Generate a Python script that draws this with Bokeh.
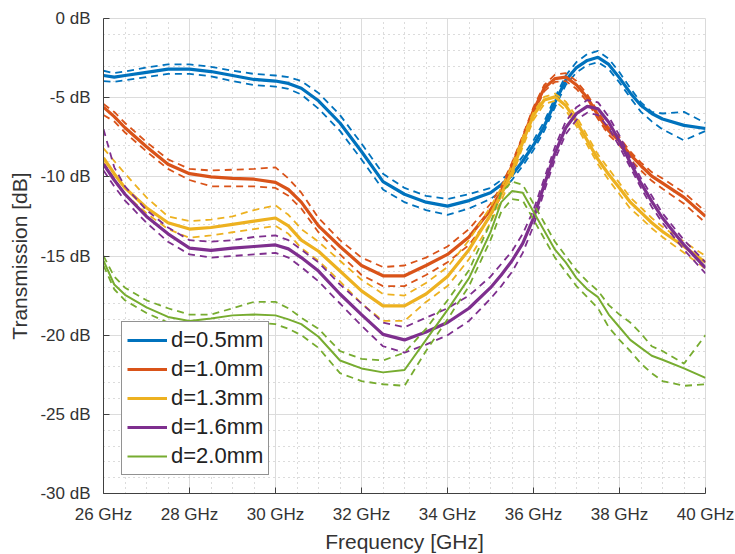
from bokeh.plotting import figure
from bokeh.models import Range1d, FixedTicker, PrintfTickFormatter
from bokeh.embed import file_html
from bokeh.resources import INLINE

freq_ghz = [26, 26.25, 26.5, 27, 27.5, 28, 28.5, 29, 29.5, 30, 30.3, 30.6, 31, 31.5, 32, 32.5, 33, 33.5,
            34, 34.5, 35, 35.25, 35.5, 35.75, 36, 36.25, 36.5, 36.75, 37, 37.25, 37.5, 37.75, 38, 38.25,
            38.5, 38.75, 39, 39.5, 40]

labels = ["d=0.5mm", "d=1.0mm", "d=1.3mm", "d=1.6mm", "d=2.0mm"]
colors = ["#0072BD", "#D95319", "#EDB120", "#7E2F8E", "#77AC30"]

d05_mean = [-3.6, -3.7, -3.6, -3.4, -3.2, -3.2, -3.35, -3.6, -3.85, -3.95, -4.1, -4.4, -5.2, -6.6, -8.4, -10.3, -11.1, -11.6,
            -11.85, -11.5, -11.0, -10.5, -9.9, -9.0, -8.0, -6.8, -5.3, -3.9, -3.1, -2.65, -2.45, -2.9, -3.75, -4.7,
            -5.5, -6.0, -6.35, -6.75, -6.95]
d05_upper = [-3.3, -3.45, -3.35, -3.1, -2.9, -2.9, -3.05, -3.3, -3.5, -3.6, -3.7, -3.95, -4.7, -6.1, -7.9, -9.8, -10.7, -11.2,
             -11.4, -11.1, -10.7, -10.2, -9.6, -8.7, -7.7, -6.5, -5.0, -3.6, -2.75, -2.25, -2.05, -2.55, -3.4, -4.4,
             -5.3, -5.9, -6.0, -5.9, -6.6]
d05_lower = [-3.95, -4.0, -3.9, -3.7, -3.5, -3.5, -3.65, -3.95, -4.2, -4.3, -4.45, -4.8, -5.7, -7.1, -8.9, -10.8, -11.6, -12.1,
             -12.4, -12.0, -11.4, -10.9, -10.2, -9.3, -8.3, -7.1, -5.6, -4.2, -3.4, -2.95, -2.75, -3.2, -4.05, -5.0,
             -5.9, -6.5, -7.0, -7.7, -7.1]

d10_mean = [-5.6, -6.2, -6.9, -8.1, -9.2, -9.8, -10.0, -10.1, -10.15, -10.35, -10.8, -11.6, -13.1, -14.4, -15.6, -16.25, -16.25, -15.6,
            -14.9, -13.8, -12.1, -10.9, -9.3, -7.6, -5.8, -4.4, -3.8, -3.7, -4.2, -5.0, -6.1, -7.1, -7.75, -8.6,
            -9.3, -9.95, -10.4, -11.3, -12.5]
d10_upper = [-5.4, -5.9, -6.6, -7.8, -8.9, -9.5, -9.6, -9.55, -9.5, -9.4, -10.1, -11.0, -12.6, -14.0, -15.1, -15.7, -15.6, -15.1,
             -14.4, -13.3, -11.7, -10.6, -9.1, -7.4, -5.6, -4.2, -3.55, -3.45, -3.95, -4.8, -5.9, -6.9, -7.5, -8.4,
             -9.1, -9.7, -10.1, -11.0, -12.2]
d10_lower = [-6.1, -6.5, -7.2, -8.4, -9.5, -10.2, -10.6, -10.6, -10.6, -10.7, -11.2, -12.0, -13.5, -14.9, -16.2, -16.9, -16.9, -16.2,
             -15.4, -14.3, -12.5, -11.2, -9.5, -7.8, -6.0, -4.6, -4.0, -3.95, -4.45, -5.25, -6.35, -7.35, -8.0, -8.9,
             -9.6, -10.25, -10.75, -11.7, -12.9]

d13_mean = [-8.8, -9.8, -10.7, -11.95, -12.9, -13.3, -13.2, -13.0, -12.8, -12.6, -13.1, -14.0, -14.7, -15.95, -17.2, -18.15, -18.15, -17.4,
            -16.3, -14.6, -12.4, -11.1, -9.7, -7.8, -6.1, -5.15, -4.95, -5.5, -6.5, -7.7, -8.9, -9.85, -10.7, -11.6,
            -12.25, -12.9, -13.45, -14.4, -15.4]
d13_upper = [-8.2, -9.0, -9.8, -11.3, -12.5, -12.8, -12.7, -12.5, -12.1, -11.8, -12.4, -13.3, -14.1, -15.3, -16.5, -17.4, -17.5, -16.7,
             -15.7, -14.0, -11.9, -10.7, -9.3, -7.5, -5.9, -4.95, -4.75, -5.25, -6.2, -7.4, -8.6, -9.5, -10.4, -11.3,
             -11.95, -12.6, -13.15, -14.1, -15.0]
d13_lower = [-9.1, -10.1, -11.1, -12.3, -13.3, -13.85, -13.7, -13.5, -13.3, -13.1, -13.6, -14.5, -15.3, -16.6, -18.0, -19.1, -19.1, -17.9,
             -16.9, -15.2, -12.9, -11.5, -10.0, -8.1, -6.4, -5.4, -5.2, -5.8, -6.8, -8.0, -9.2, -10.2, -11.1, -12.0,
             -12.6, -13.25, -13.8, -14.8, -15.8]

d16_mean = [-9.2, -10.2, -11.1, -12.5, -13.6, -14.5, -14.65, -14.5, -14.4, -14.3, -14.55, -15.1, -15.95, -17.4, -18.7, -19.95, -20.3, -19.8,
            -19.2, -18.3, -17.0, -16.2, -15.3, -14.2, -12.6, -10.5, -8.5, -6.9, -6.0, -5.55, -5.7, -6.55, -7.75, -9.1,
            -10.4, -11.55, -12.6, -14.3, -15.75]
d16_upper = [-7.0, -9.4, -10.6, -12.1, -13.2, -14.0, -14.1, -14.0, -13.8, -13.7, -14.0, -14.6, -15.4, -16.8, -18.0, -19.2, -19.5, -18.9,
             -18.3, -17.5, -16.3, -15.5, -14.7, -13.6, -12.1, -10.1, -8.1, -6.5, -5.6, -5.15, -5.3, -6.2, -7.4, -8.8,
             -10.1, -11.2, -12.3, -14.0, -15.4]
d16_lower = [-9.6, -10.6, -11.5, -12.9, -14.1, -14.9, -15.1, -15.0, -14.9, -14.8, -15.1, -15.7, -16.6, -18.0, -19.4, -20.7, -21.1, -20.6,
             -20.0, -19.1, -17.7, -16.9, -16.0, -14.8, -13.1, -10.9, -8.9, -7.3, -6.4, -5.95, -6.1, -6.9, -8.1, -9.4,
             -10.7, -11.9, -12.9, -14.6, -16.1]

d20_mean = [-15.3, -16.8, -17.45, -18.25, -18.85, -19.1, -18.95, -18.75, -18.7, -18.75, -19.0, -19.3, -20.1, -21.6, -22.1, -22.35, -22.2, -20.3,
            -18.4, -16.4, -13.5, -11.6, -10.9, -11.0, -12.2, -13.4, -14.6, -15.4, -16.4, -17.1, -17.6, -18.7, -19.5, -20.3,
            -20.8, -21.3, -21.55, -22.1, -22.7]
d20_upper = [-15.0, -16.3, -17.0, -17.8, -18.3, -18.7, -18.7, -18.3, -17.9, -17.9, -18.3, -18.9, -19.6, -21.0, -21.5, -21.6, -21.1, -19.6,
             -17.8, -15.9, -12.9, -11.0, -10.3, -10.5, -11.7, -12.9, -14.1, -15.0, -15.9, -16.6, -17.2, -18.1, -18.7, -19.2,
             -19.9, -20.7, -21.0, -21.8, -20.0]
d20_lower = [-15.6, -17.1, -17.8, -18.6, -19.2, -19.5, -19.4, -19.2, -19.2, -19.3, -19.6, -20.0, -20.8, -22.4, -22.9, -23.1, -23.2, -21.0,
             -19.0, -16.9, -14.0, -12.2, -11.4, -11.5, -12.7, -13.9, -15.1, -16.0, -16.9, -17.6, -18.3, -19.5, -20.3, -21.0,
             -21.8, -22.4, -22.9, -23.2, -23.1]

x_ticks = [26, 28, 30, 32, 34, 36, 38, 40]
y_ticks = [-30, -25, -20, -15, -10, -5, 0]
x_minor = [26 + 0.5 * i for i in range(29)]
y_minor = [-30 + i for i in range(31)]

series = [
    (d05_mean, d05_upper, d05_lower, 3.2),
    (d10_mean, d10_upper, d10_lower, 3.2),
    (d13_mean, d13_upper, d13_lower, 3.2),
    (d16_mean, d16_upper, d16_lower, 3.2),
    (d20_mean, d20_upper, d20_lower, 2.0),
]

FONT = "Liberation Sans"
TXT = "#333333"

p = figure(frame_width=602, frame_height=475, output_backend="svg", toolbar_location=None,
           x_range=Range1d(26, 40), y_range=Range1d(-30, 0),
           min_border_left=103, min_border_right=30, min_border_top=18, min_border_bottom=61,
           x_axis_label="Frequency [GHz]", y_axis_label="Transmission [dB]")
p.background_fill_color = "white"
p.border_fill_color = "white"
p.outline_line_color = "#dadada"

p.xaxis.ticker = FixedTicker(ticks=x_ticks, minor_ticks=x_minor)
p.yaxis.ticker = FixedTicker(ticks=y_ticks, minor_ticks=y_minor)
p.xaxis.formatter = PrintfTickFormatter(format="%d GHz")
p.yaxis.formatter = PrintfTickFormatter(format="%d dB")

for ax in (p.xaxis, p.yaxis):
    ax.axis_line_color = "#404040"
    ax.major_tick_line_color = "#404040"
    ax.major_tick_in = 6
    ax.major_tick_out = 0
    ax.minor_tick_line_color = None
    ax.major_label_text_font = FONT
    ax.major_label_text_font_size = "17px"
    ax.major_label_text_color = TXT
    ax.axis_label_text_font = FONT
    ax.axis_label_text_font_size = "21px"
    ax.axis_label_text_font_style = "normal"
    ax.axis_label_text_color = TXT
p.xaxis.major_label_standoff = 7
p.yaxis.major_label_standoff = 9
p.xaxis.axis_label_standoff = 3
p.yaxis.axis_label_standoff = 6

for g in (p.xgrid, p.ygrid):
    g.grid_line_color = "#dcdcdc"
    g.grid_line_width = 1
    g.minor_grid_line_color = "#b8b8b8"
    g.minor_grid_line_dash = "1 4"
    g.minor_grid_line_width = 1

for (mean, up, lo, lw), lab, col in zip(series, labels, colors):
    p.line(freq_ghz, up, line_color=col, line_width=1.8, line_dash="7 5")
    p.line(freq_ghz, lo, line_color=col, line_width=1.8, line_dash="7 5")
    p.line(freq_ghz, mean, line_color=col, line_width=lw, legend_label=lab)

leg = p.legend[0]
leg.location = (18, 18)
leg.padding = 5
leg.spacing = 3
leg.margin = 0
leg.glyph_width = 40
leg.glyph_height = 26
leg.label_height = 26
leg.label_standoff = 4
leg.label_text_font = FONT
leg.label_text_font_size = "22px"
leg.label_text_color = "#222222"
leg.border_line_color = "#262626"
leg.border_line_width = 1
leg.background_fill_alpha = 1

open("out.html", "w").write(file_html(p, INLINE))
